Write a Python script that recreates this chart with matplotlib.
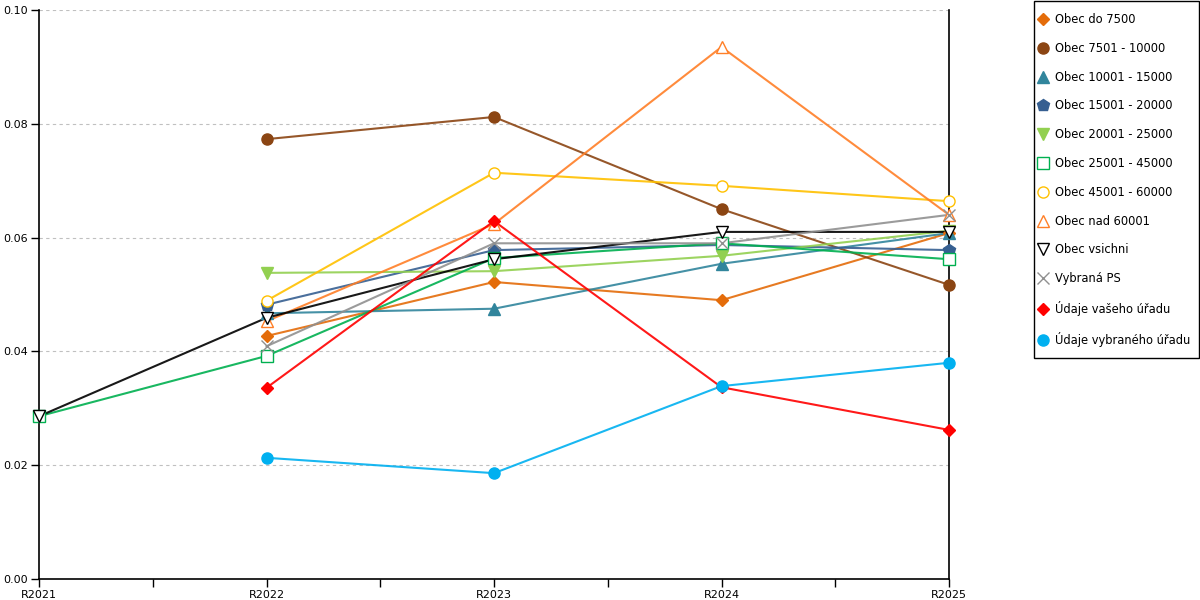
import matplotlib
matplotlib.use('Agg')
import matplotlib.pyplot as plt
from matplotlib.patches import Rectangle
import numpy as np

# roky a hodnoty
years = [2021, 2022, 2023, 2024, 2025]
year_labels = ['R2021', 'R2022', 'R2023', 'R2024', 'R2025']
nan = np.nan

obec_do_7500 = [nan, 0.0427, 0.0522, 0.0490, 0.0608]
obec_7501_10000 = [nan, 0.0773, 0.0812, 0.0650, 0.0517]
obec_10001_15000 = [nan, 0.0467, 0.0475, 0.0554, 0.0608]
obec_15001_20000 = [nan, 0.0482, 0.0578, 0.0587, 0.0578]
obec_20001_25000 = [nan, 0.0538, 0.0541, 0.0568, 0.0612]
obec_25001_45000 = [0.0286, 0.0392, 0.0564, 0.0590, 0.0562]
obec_45001_60000 = [nan, 0.0489, 0.0714, 0.0691, 0.0664]
obec_nad_60001 = [nan, 0.0453, 0.0624, 0.0935, 0.0640]
obec_vsichni = [0.0286, 0.0459, 0.0562, 0.0610, 0.0610]
vybrana_ps = [nan, 0.0409, 0.0590, 0.0590, 0.0640]
vaseho_uradu = [nan, 0.0336, 0.0629, 0.0337, 0.0262]
vybraneho_uradu = [nan, 0.0213, 0.0186, 0.0339, 0.0380]

# (popisek, data, barva, znacka, plna, velikost)
series = [
    ('Obec do 7500', obec_do_7500, '#E46C0A', 'D', True, 6),
    ('Obec 7501 - 10000', obec_7501_10000, '#8B4513', 'o', True, 8),
    ('Obec 10001 - 15000', obec_10001_15000, '#31859C', '^', True, 9),
    ('Obec 15001 - 20000', obec_15001_20000, '#365F91', 'p', True, 9),
    ('Obec 20001 - 25000', obec_20001_25000, '#92D050', 'v', True, 9),
    ('Obec 25001 - 45000', obec_25001_45000, '#00B050', 's', False, 8),
    ('Obec 45001 - 60000', obec_45001_60000, '#FFC000', 'o', False, 8),
    ('Obec nad 60001', obec_nad_60001, '#FF7F27', '^', False, 9),
    ('Obec vsichni', obec_vsichni, '#000000', 'v', False, 9),
    ('Vybraná PS', vybrana_ps, '#909090', 'x', True, 8),
    ('Údaje vašeho úřadu', vaseho_uradu, '#FF0000', 'D', True, 6),
    ('Údaje vybraného úřadu', vybraneho_uradu, '#00B0F0', 'o', True, 8),
]

plt.rcParams['font.family'] = ['DejaVu Sans']
plt.rcParams['font.size'] = 8

W, H = 1200, 600
fig = plt.figure(figsize=(12, 6), dpi=100)
ax = fig.add_axes([39/W, 1 - 579/H, 910/W, 569/H])

handles = []
for label, vals, color, marker, filled, ms in series:
    y = np.array(vals, dtype=float)
    mask = ~np.isnan(y)
    x = np.array(years)[mask]
    fc = color if filled else 'white'
    ax.plot(x, y[mask], color=color, lw=1.5, alpha=0.9, zorder=3)
    ax.plot(x, y[mask], ls='none', marker=marker, ms=ms, mfc=fc,
            mec=color, mew=1.0, zorder=4, clip_on=False)
    h, = ax.plot([], [], ls='none', marker=marker, ms=ms, mfc=fc,
                 mec=color, mew=1.0, label=label)
    handles.append(h)

ax.set_xlim(2021, 2025)
ax.set_ylim(0, 0.10)
ax.set_xticks(years)
ax.set_xticklabels(year_labels)
ax.set_xticks([2021.5, 2022.5, 2023.5, 2024.5], minor=True)
ax.set_yticks(np.arange(0, 0.101, 0.02))
ax.set_yticklabels(['%.2f' % v for v in np.arange(0, 0.101, 0.02)])
ax.tick_params(axis='both', which='both', direction='out', length=6,
               width=1, colors='black', labelsize=8, pad=2)
ax.yaxis.grid(True, ls=(0, (3, 3)), color='#C0C0C0', lw=0.8)
ax.set_axisbelow(True)
ax.spines['top'].set_visible(False)
for s in ['left', 'bottom', 'right']:
    ax.spines[s].set_color('black')
    ax.spines[s].set_linewidth(1.2)

# ramecek legendy zvlast
fig.patches.append(Rectangle((1034/W, 1 - 358/H), 165/W, 357/H,
                             transform=fig.transFigure, fill=False,
                             edgecolor='black', lw=1.0))
fig.legend(handles=handles, loc='upper left',
           bbox_to_anchor=(1037/W, 1 - 13/H),
           frameon=False, fontsize=8.3,
           handlelength=1.0, handletextpad=0.55, labelspacing=1.37,
           borderpad=0, borderaxespad=0, numpoints=1)

fig.savefig('out.png', dpi=100)
